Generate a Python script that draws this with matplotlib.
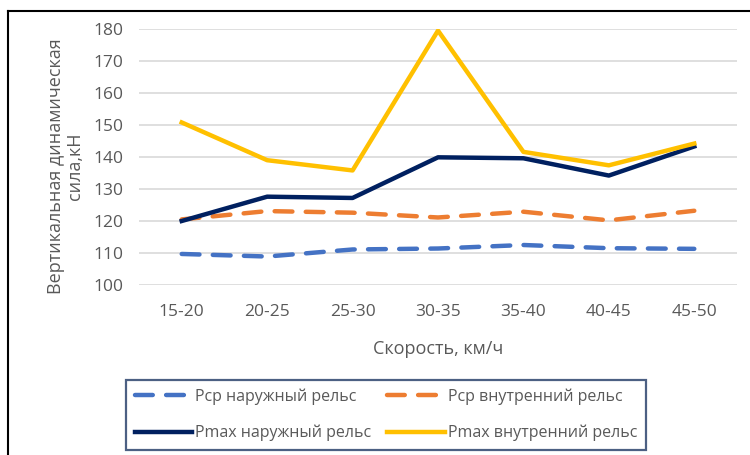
import matplotlib.pyplot as plt
from matplotlib.lines import Line2D

plt.rcParams['font.family'] = ['Open Sans', 'DejaVu Sans']

speeds = ['15-20', '20-25', '25-30', '30-35', '35-40', '40-45', '45-50']
pcp_outer = [109.7, 108.9, 111.1, 111.4, 112.5, 111.5, 111.3]
pcp_inner = [120.5, 123.1, 122.6, 121.1, 122.9, 120.2, 123.2]
pmax_outer = [120.0, 127.6, 127.2, 139.9, 139.6, 134.2, 143.3]
pmax_inner = [150.8, 139.0, 135.8, 179.5, 141.6, 137.4, 144.2]

fig = plt.figure(figsize=(7.5, 4.55), dpi=100)
ax = fig.add_axes([139/750, 1 - 285/455, (737 - 139)/750, (285 - 29)/455])

x = range(len(speeds))
l1, = ax.plot(x, pcp_outer, color='#4472c4', lw=3.2, dashes=(4, 3),
              dash_capstyle='round', label='Рср наружный рельс')
l2, = ax.plot(x, pcp_inner, color='#ed7d31', lw=3.2, dashes=(4, 3),
              dash_capstyle='round', label='Рср внутренний рельс')
l3, = ax.plot(x, pmax_outer, color='#002060', lw=3.2, label='Pmax наружный рельс')
l4, = ax.plot(x, pmax_inner, color='#ffc000', lw=3.2, label='Pmax внутренний рельс')

ax.set_xlim(-0.5, len(speeds) - 0.5)
ax.set_ylim(100, 180)
ax.set_yticks(range(100, 181, 10))
ax.set_xticks(list(x))
ax.set_xticklabels(speeds)
ax.grid(axis='y', color='#d9d9d9', lw=1.2)
ax.set_axisbelow(True)
for s in ax.spines.values():
    s.set_visible(False)
ax.tick_params(length=0, labelsize=12.5, colors='#595959')
ax.tick_params(axis='x', pad=14)
ax.tick_params(axis='y', pad=11)

ax.set_xlabel('Скорость, км/ч', fontsize=13, color='#595959')
ax.xaxis.set_label_coords(0.5, -(340 - 285)/256)
ax.set_ylabel('Вертикальная динамическая\nсила,кН', fontsize=13,
              color='#595959', linespacing=1.05)
ax.yaxis.set_label_coords(-(139 - 84)/598, (285 - 166)/256)

leg = fig.legend([l1, l3, l2, l4], [l1.get_label(), l3.get_label(), l2.get_label(), l4.get_label()],
                 ncol=2, loc='center', bbox_to_anchor=(386/750, 1 - 415/455),
                 fontsize=11.5, frameon=True, fancybox=False, handlelength=3.6,
                 columnspacing=1.0, handletextpad=0.2, borderpad=0.55, labelspacing=1.25)
for t in leg.get_texts():
    t.set_color('#595959')
leg.get_frame().set_edgecolor('#1f3864')
leg.get_frame().set_linewidth(1.6)

# outer frame
fig.add_artist(Line2D([8/750, 1], [1 - 11/455, 1 - 11/455], color='black', lw=1.5,
                      transform=fig.transFigure))
fig.add_artist(Line2D([8/750, 8/750], [0, 1 - 11/455], color='black', lw=1.5,
                      transform=fig.transFigure))

fig.savefig('out.png', dpi=100)
